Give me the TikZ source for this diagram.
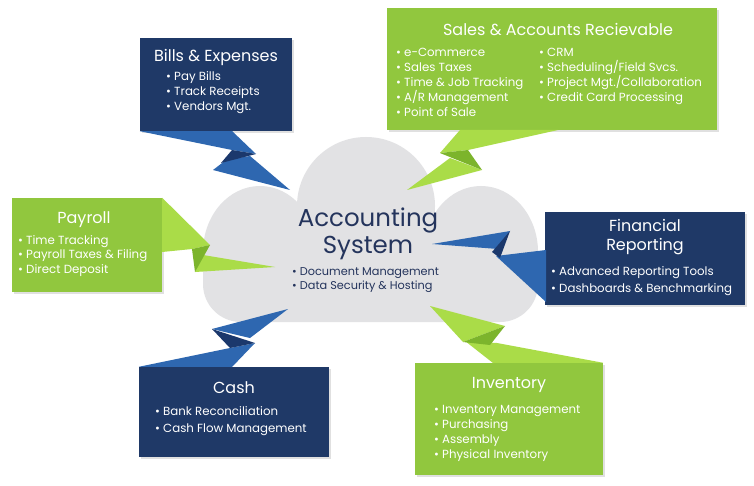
\documentclass[tikz,border=0pt]{standalone}
\usepackage{fontspec}
\setmainfont{Poppins}
\definecolor{navy}{RGB}{31,57,103}
\definecolor{bolt}{RGB}{46,103,176}
\definecolor{boltdark}{RGB}{27,56,108}
\definecolor{lime}{RGB}{145,199,62}
\definecolor{limebolt}{RGB}{170,220,72}
\definecolor{limedark}{RGB}{124,180,44}
\definecolor{cloudgray}{RGB}{226,226,228}
\definecolor{cloudtext}{RGB}{36,52,92}
\begin{document}
\begin{tikzpicture}[x=1pt,y=-1pt,
  navybox/.style={fill=navy, draw=none, inner sep=0pt, minimum width=#1},
  greenbox/.style={fill=lime, draw=none, inner sep=0pt, minimum width=#1},
  shadowbox/.style={fill=black, opacity=0.12, draw=none},
  boxtitle/.style={text=white, font=\fontsize{16}{19.5}\selectfont, inner sep=0pt, align=center},
  item/.style={text=white, font=\fontsize{11.8}{14}\selectfont, anchor=mid west, inner sep=0pt},
  cloudtitle/.style={text=cloudtext, font=\fontsize{24.5}{28}\selectfont, inner sep=0pt},
  clouditem/.style={text=cloudtext, font=\fontsize{11.3}{13}\selectfont, anchor=mid west, inner sep=0pt}
]
\useasboundingbox (0,0) rectangle (754,486);
\fill[white] (0,0) rectangle (754,486);

% ---- cloud ----
\begin{scope}[fill=cloudgray]
  \fill (366,206) circle[radius=69];
  \fill (260,252) ellipse[x radius=57, y radius=66];
  \fill (481,252) ellipse[x radius=57, y radius=66];
  \fill[rounded corners=38] (203,215) rectangle (538,322);
\end{scope}

% ---- box shadows ----
\fill[shadowbox] (142,40) rectangle (294,133);
\fill[shadowbox] (389,10) rectangle (719,132);
\fill[shadowbox] (14,200) rectangle (164,294);
\fill[shadowbox] (547,214) rectangle (747,307);
\fill[shadowbox] (141,369) rectangle (331,459);
\fill[shadowbox] (417,365) rectangle (605,477);

% ---- boxes ----
\node[navybox=152pt, minimum height=93pt]  (bills) at (216,84.5) {};
\node[greenbox=330pt, minimum height=122pt] (sales) at (552,69) {};
\node[greenbox=150pt, minimum height=94pt] (payroll) at (87,245) {};
\node[navybox=200pt, minimum height=93pt]  (fin) at (645,258.5) {};
\node[navybox=190pt, minimum height=90pt]  (cash) at (234,412) {};
\node[greenbox=188pt, minimum height=112pt] (inv) at (509,419) {};

% ---- bolts ----
% Bills
\fill[bolt] (213,170) -- (226,160) -- (250,156) -- (290,190) -- cycle;
\fill[bolt] (bills.south west) -- (232,131) -- (256,154) -- (232,150) -- cycle;
\fill[boltdark] (232,150) -- (256,154) -- (221,163) -- cycle;
% Sales
\fill[limebolt] (450,158) -- (482,170) -- (407,190) -- cycle;
\fill[limebolt] (460,130) -- (558,130) -- (468,150) -- (440,153) -- cycle;
\fill[limedark] (468,150) -- (482,170) -- (440,153) -- cycle;
% Payroll
\fill[limebolt] (203,255) -- (195,272) -- (275,267) -- cycle;
\fill[limebolt] (payroll.north east) -- (210,245) -- (192,249) -- (162,252) -- cycle;
\fill[limedark] (192,249) -- (210,245) -- (195,272) -- cycle;
% Financial
\fill[bolt] (496,256) -- (546,250) -- (546,302) -- cycle;
\fill[bolt] (432,244) -- (510,231) -- (498,249) -- cycle;
\fill[boltdark] (510,231) -- (492,252) -- (500,258) -- cycle;
% Cash
\fill[bolt] (288,309) -- (212,329) -- (250,338) -- cycle;
\fill[bolt] (cash.north west) -- (230,348) -- (255,343) -- (232,367) -- cycle;
\fill[boltdark] (212,329) -- (255,343) -- (230,348) -- cycle;
% Inventory
\fill[limebolt] (430,306) -- (505,326) -- (463,342) -- cycle;
\fill[limebolt] (465,341) -- (497,343) -- (inv.north east) -- (493,363) -- cycle;
\fill[limedark] (505,326) -- (463,342) -- (490,345) -- cycle;

% ---- cloud text ----
\node[cloudtitle] (acc) at (368,220) {Accounting};
\node[cloudtitle] (sys) at (368,248) {System};
\node[clouditem] (c1) at (292,273) {\textbullet\ Document Management};
\node[clouditem] (c2) at (292,287) {\textbullet\ Data Security \& Hosting};

% ---- Bills text ----
\node[boxtitle] (billsT) at (216,57) {Bills \& Expenses};
\node[item] (b1) at (166,78) {\textbullet\ Pay Bills};
\node[item] (b2) at (166,93) {\textbullet\ Track Receipts};
\node[item] (b3) at (166,108) {\textbullet\ Vendors Mgt.};

% ---- Sales text ----
\node[boxtitle] (salesT) at (558,30) {Sales \& Accounts Recievable};
\node[item] (s1) at (396,54) {\textbullet\ e-Commerce};
\node[item] (s2) at (396,69) {\textbullet\ Sales Taxes};
\node[item] (s3) at (396,84) {\textbullet\ Time \& Job Tracking};
\node[item] (s4) at (396,99) {\textbullet\ A/R Management};
\node[item] (s5) at (396,114) {\textbullet\ Point of Sale};
\node[item] (s6) at (539,54) {\textbullet\ CRM};
\node[item] (s7) at (539,69) {\textbullet\ Scheduling/Field Svcs.};
\node[item] (s8) at (539,84) {\textbullet\ Project Mgt./Collaboration};
\node[item] (s9) at (539,99) {\textbullet\ Credit Card Processing};

% ---- Payroll text ----
\node[boxtitle] (payT) at (84,220) {Payroll};
\node[item] (p1) at (18,242) {\textbullet\ Time Tracking};
\node[item] (p2) at (18,256) {\textbullet\ Payroll Taxes \& Filing};
\node[item] (p3) at (18,271) {\textbullet\ Direct Deposit};

% ---- Financial text ----
\node[boxtitle] (finT) at (645,237) {Financial\\Reporting};
\node[item] (f1) at (551,273) {\textbullet\ Advanced Reporting Tools};
\node[item] (f2) at (551,290) {\textbullet\ Dashboards \& Benchmarking};

% ---- Cash text ----
\node[boxtitle] (cashT) at (234,388) {Cash};
\node[item] (k1) at (155,413) {\textbullet\ Bank Reconciliation};
\node[item] (k2) at (155,430) {\textbullet\ Cash Flow Management};

% ---- Inventory text ----
\node[boxtitle] (invT) at (509,385) {Inventory};
\node[item] (i1) at (434,411) {\textbullet\ Inventory Management};
\node[item] (i2) at (434,426) {\textbullet\ Purchasing};
\node[item] (i3) at (434,441) {\textbullet\ Assembly};
\node[item] (i4) at (434,456) {\textbullet\ Physical Inventory};
\end{tikzpicture}
\end{document}
